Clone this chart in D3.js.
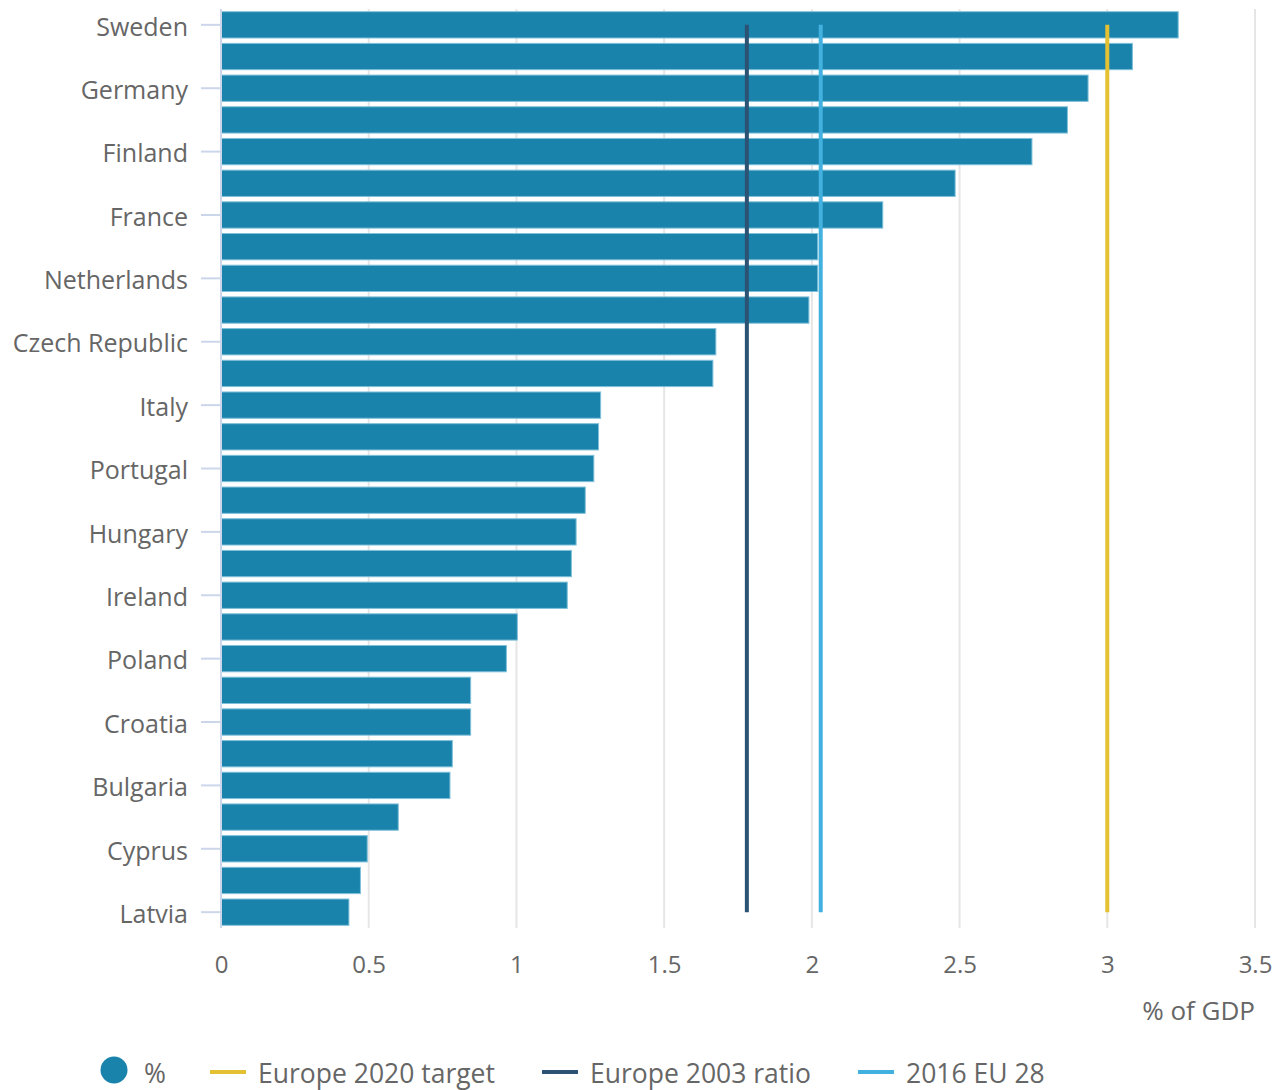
<!DOCTYPE html>
<html>
<head>
<meta charset="utf-8">
<script src="https://cdn.jsdelivr.net/npm/d3@7"></script>
<style>
  body { margin: 0; background: #fff; }
  svg { font-family: 'Open Sans', sans-serif; }
</style>
</head>
<body>
<div class="fixed"></div>
<script>
// R&D expenditure, % of GDP (2016)
var countries = ['Sweden', 'Austria', 'Germany', 'Denmark', 'Finland', 'Belgium',
    'France', 'EU 28', 'Netherlands', 'Slovenia', 'Czech Republic', 'United Kingdom',
    'Italy', 'Estonia', 'Portugal', 'Luxembourg', 'Hungary', 'Spain', 'Ireland',
    'Greece', 'Poland', 'Lithuania', 'Croatia', 'Slovakia', 'Bulgaria', 'Malta',
    'Cyprus', 'Romania', 'Latvia'];
var values = [3.24, 3.085, 2.935, 2.865, 2.745, 2.485, 2.24, 2.02, 2.02, 1.99, 1.675, 1.665,
    1.285, 1.278, 1.262, 1.233, 1.202, 1.186, 1.172, 1.003, 0.966, 0.845, 0.845, 0.783, 0.775,
    0.60, 0.495, 0.472, 0.433];
var x_ticks = [0, 0.5, 1, 1.5, 2, 2.5, 3, 3.5];
var ref_names = ['Europe 2020 target', 'Europe 2003 ratio', '2016 EU 28'];
var ref_values = [3, 1.78, 2.03];
var ref_colors = ['#e4c133', '#2c5274', '#42b1e0'];

var data = countries.map(function(c, i){
    return { country: c, value: values[i] };
});

var chart_width  = 1282;
var chart_height = 1090;
var plot_left   = 221;
var plot_right  = 1255;
var plot_top    = 9;
var plot_bottom = 928;

var svg = d3.select('.fixed')
    .append('svg')
    .attr('width', chart_width)
    .attr('height', chart_height);

var x_scale = d3.scaleLinear()
    .domain([0, 3.5])
    .range([plot_left, plot_right]);

var y_scale = d3.scaleBand()
    .domain(countries)
    .range([plot_top, plot_bottom])
    .paddingInner(0.17)
    .paddingOuter(0.085);

// grid lines
svg.append('g')
    .selectAll('line')
    .data(x_ticks.slice(1))
    .enter()
    .append('line')
    .attr('x1', function(d){ return x_scale(d); })
    .attr('x2', function(d){ return x_scale(d); })
    .attr('y1', plot_top)
    .attr('y2', plot_bottom)
    .attr('stroke', '#e6e6e6')
    .attr('stroke-width', 2);

// x axis labels
var x_axis = d3.axisBottom(x_scale)
    .tickValues(x_ticks)
    .tickFormat(d3.format('~g'))
    .tickSize(0)
    .tickPadding(28);

svg.append('g')
    .attr('class', 'x-axis')
    .attr('transform', 'translate(0,' + plot_bottom + ')')
    .call(x_axis)
    .call(g => g.select('.domain').remove())
    .call(g => g.selectAll('text')
        .attr('fill', '#666666')
        .style('font-size', '24px')
        .style('font-family', "'Open Sans', sans-serif"));

svg.append('text')
    .attr('x', plot_right)
    .attr('y', 1020)
    .attr('text-anchor', 'end')
    .attr('fill', '#666666')
    .style('font-size', '26px')
    .text('% of GDP');

// bars
svg.append('g')
    .selectAll('rect')
    .data(data)
    .enter()
    .append('rect')
    .attr('x', x_scale(0))
    .attr('y', function(d){ return y_scale(d.country); })
    .attr('width', function(d){ return x_scale(d.value) - x_scale(0); })
    .attr('height', y_scale.bandwidth())
    .attr('fill', '#1a83ab')
    .attr('stroke', '#7fc0da')
    .attr('stroke-width', 1);

// y axis
var y_axis = d3.axisLeft(y_scale)
    .tickValues(countries.filter(function(d, i){ return i % 2 === 0; }))
    .tickSize(20)
    .tickPadding(13);

svg.append('g')
    .attr('class', 'y-axis')
    .attr('transform', 'translate(' + plot_left + ',0)')
    .call(y_axis)
    .call(g => g.select('.domain')
        .attr('d', 'M0,' + plot_top + 'V' + plot_bottom)
        .attr('stroke', '#ccd6eb')
        .attr('stroke-width', 2))
    .call(g => g.selectAll('.tick line')
        .attr('stroke', '#ccd6eb')
        .attr('stroke-width', 2))
    .call(g => g.selectAll('.tick text')
        .attr('fill', '#666666')
        .attr('dy', '0.43em')
        .style('font-size', '25px')
        .style('font-family', "'Open Sans', sans-serif"));

// reference lines
var first_y = y_scale(countries[0]) + y_scale.bandwidth() / 2;
var last_y = y_scale(countries[countries.length - 1]) + y_scale.bandwidth() / 2;

svg.append('g')
    .selectAll('line')
    .data(ref_values)
    .enter()
    .append('line')
    .attr('x1', function(d){ return x_scale(d); })
    .attr('x2', function(d){ return x_scale(d); })
    .attr('y1', first_y)
    .attr('y2', last_y)
    .attr('stroke', function(d, i){ return ref_colors[i]; })
    .attr('stroke-width', 4);

// legend
var legend = svg.append('g')
    .style('font-size', '26.5px')
    .attr('fill', '#666666');

legend.append('circle')
    .attr('cx', 114)
    .attr('cy', 1070)
    .attr('r', 13.5)
    .attr('fill', '#1a83ab');

legend.append('text')
    .attr('x', 144)
    .attr('y', 1083)
    .text('%');

var legend_x = [210, 542, 858];
ref_names.forEach(function(name, i){
    legend.append('line')
        .attr('x1', legend_x[i])
        .attr('x2', legend_x[i] + 36)
        .attr('y1', 1072)
        .attr('y2', 1072)
        .attr('stroke', ref_colors[i])
        .attr('stroke-width', 4);
    legend.append('text')
        .attr('x', legend_x[i] + 48)
        .attr('y', 1083)
        .text(name);
});
</script>
</body>
</html>
